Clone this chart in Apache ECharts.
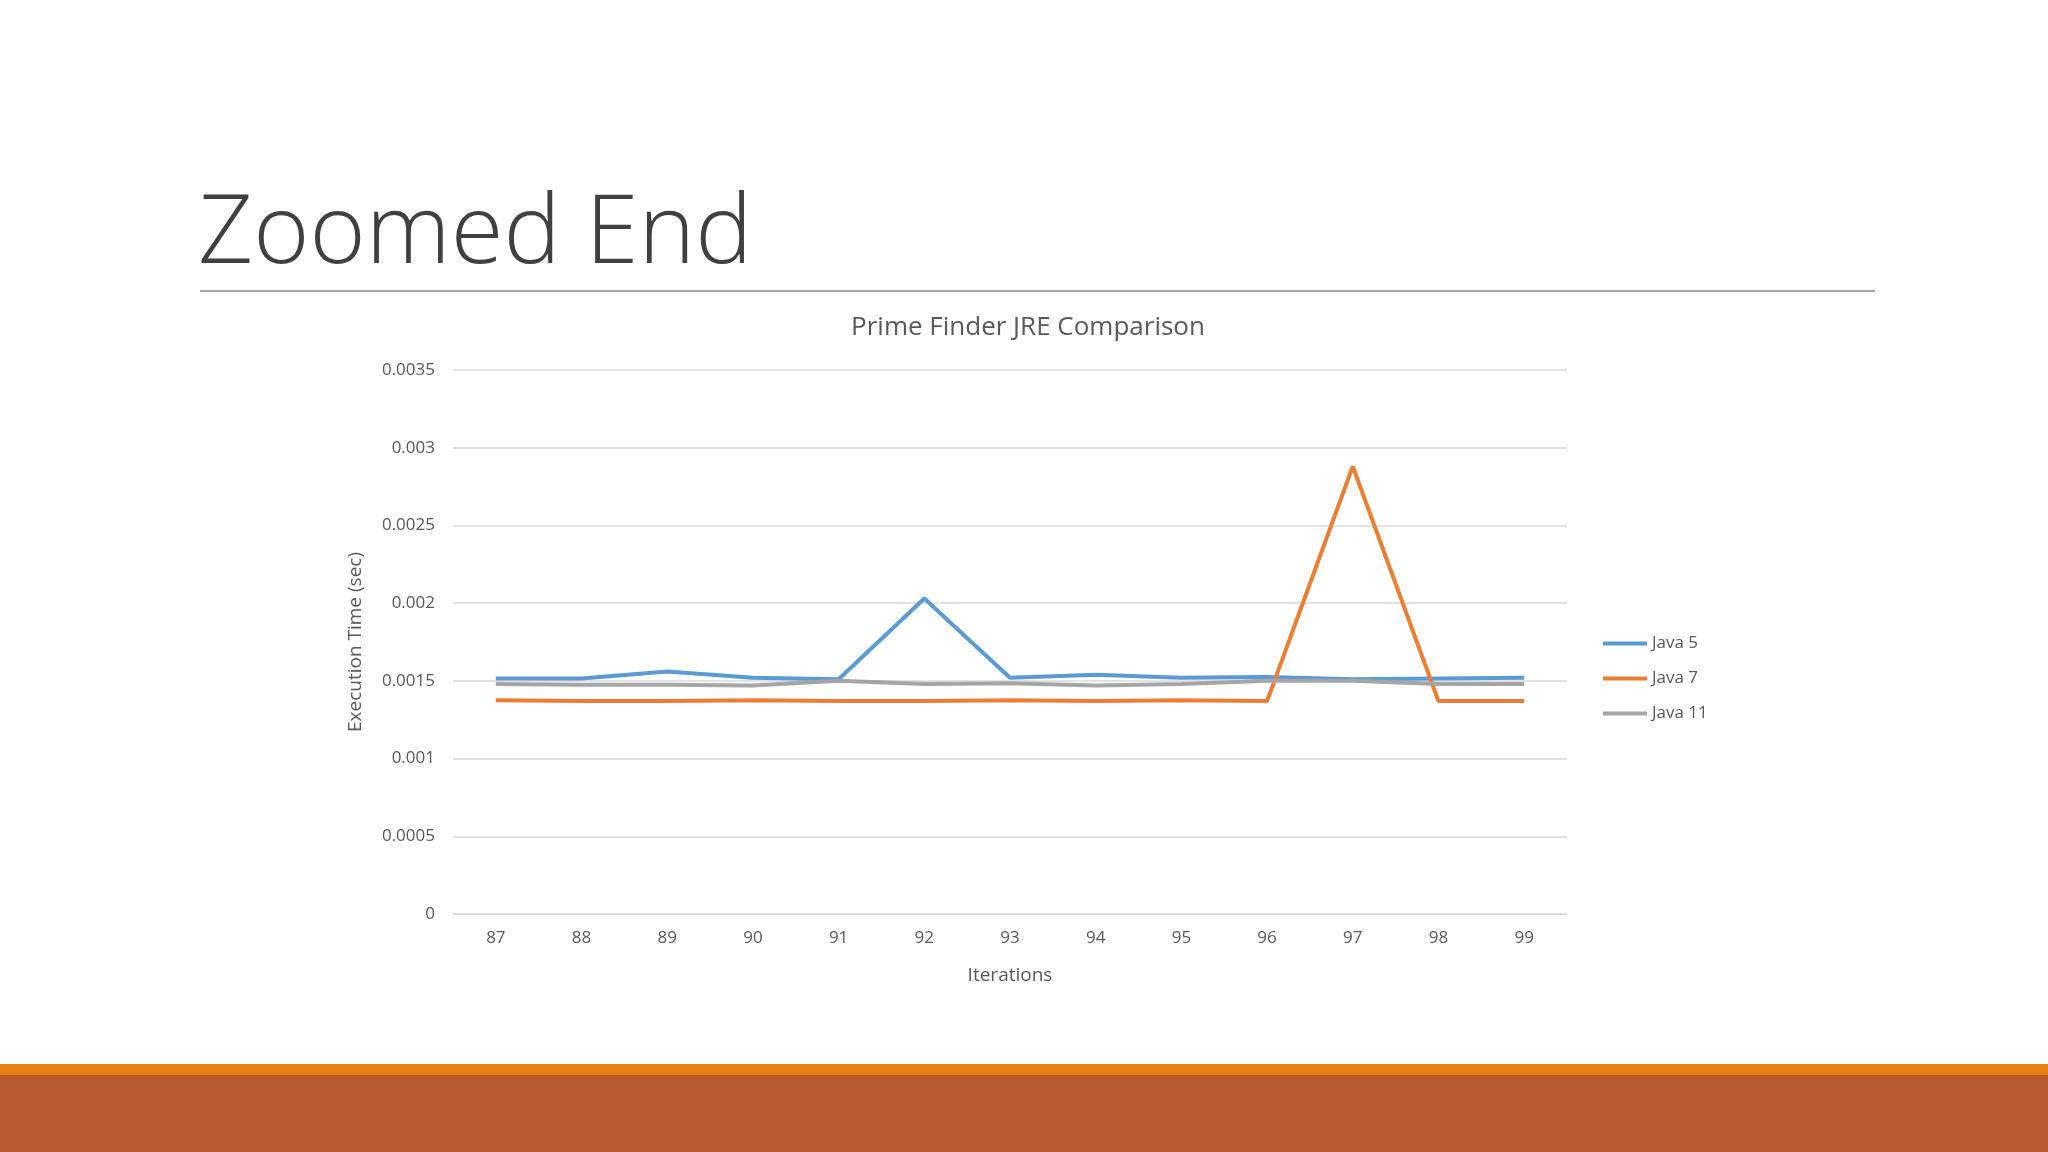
<!DOCTYPE html>
<html lang="en">
<head>
    <meta charset="UTF-8">
    <title>Zoomed End</title>
    <style>
        body{ margin:0; width:2048px; height:1152px; background:#fff; overflow:hidden; position:relative; font-family:"Open Sans",sans-serif; }
        #head{ position:absolute; left:198px; top:160px; font-size:96px; font-weight:300; color:#404040; }
        #rule{ position:absolute; left:200px; top:290px; width:1675px; height:2px; background:#a6a6a6; }
        #bar1{ position:absolute; left:0; top:1064px; width:2048px; height:11px; background:#e48312; }
        #bar2{ position:absolute; left:0; top:1075px; width:2048px; height:77px; background:#ba5a2f; }
        #main{ position:absolute; left:0; top:300px; width:2048px; height:720px; }
    </style>
</head>
<body>
<div id="head">Zoomed End</div>
<div id="rule"></div>
<div id="main"></div>
<div id="bar1"></div>
<div id="bar2"></div>
<script src="https://cdn.jsdelivr.net/npm/echarts@6/dist/echarts.min.js"></script>
<script>
    var iterations = ['87','88','89','90','91','92','93','94','95','96','97','98','99'];
    var java5 = [0.001515,0.001515,0.00156,0.00152,0.00151,0.00203,0.00152,0.00154,0.00152,0.001525,0.00151,0.001515,0.00152];
    var java7 = [0.001375,0.00137,0.00137,0.001375,0.00137,0.00137,0.001375,0.00137,0.001375,0.00137,0.00288,0.00137,0.00137];
    var java11 = [0.00148,0.001475,0.001475,0.00147,0.0015,0.00148,0.001485,0.00147,0.00148,0.0015,0.0015,0.00148,0.00148];

    var chart = echarts.init(document.getElementById('main'));
    var txt = '#595959';
    function line(name, data, color) {
        return { name: name, type: 'line', data: data, symbol: 'none',
                 lineStyle: { color: color, width: 4 }, itemStyle: { color: color } };
    }
    chart.setOption({
        textStyle: { fontFamily: 'Open Sans' },
        title: { text: 'Prime Finder JRE Comparison', left: 1023, top: 10, textAlign: 'center',
                 textStyle: { fontSize: 26, fontWeight: 'normal', color: txt } },
        legend: { orient: 'vertical', left: 1598, top: 330, itemGap: 18, itemWidth: 44, itemHeight: 4,
                  icon: 'rect', textStyle: { fontSize: 17, color: txt },
                  data: ['Java 5', 'Java 7', 'Java 11'] },
        grid: { left: 453, right: 481, top: 70, bottom: 106 },
        xAxis: { type: 'category', data: iterations, name: 'Iterations', nameLocation: 'middle', nameGap: 52,
                 nameTextStyle: { fontSize: 19, color: txt },
                 axisLine: { lineStyle: { color: '#d9d9d9' } }, axisTick: { show: false },
                 axisLabel: { fontSize: 17, color: txt, margin: 16 } },
        yAxis: { type: 'value', min: 0, max: 0.0035, interval: 0.0005,
                 name: 'Execution Time (sec)', nameLocation: 'middle', nameGap: 88,
                 nameTextStyle: { fontSize: 19, color: txt },
                 axisLine: { show: false }, axisTick: { show: false },
                 axisLabel: { fontSize: 17, color: txt, margin: 18, formatter: function (v) { return String(+v.toFixed(4)); } },
                 splitLine: { lineStyle: { color: '#d9d9d9', width: 1.5 } } },
        series: [ line('Java 5', java5, '#5b9bd5'), line('Java 7', java7, '#ed7d31'), line('Java 11', java11, '#a5a5a5') ]
    });
</script>
</body>
</html>
